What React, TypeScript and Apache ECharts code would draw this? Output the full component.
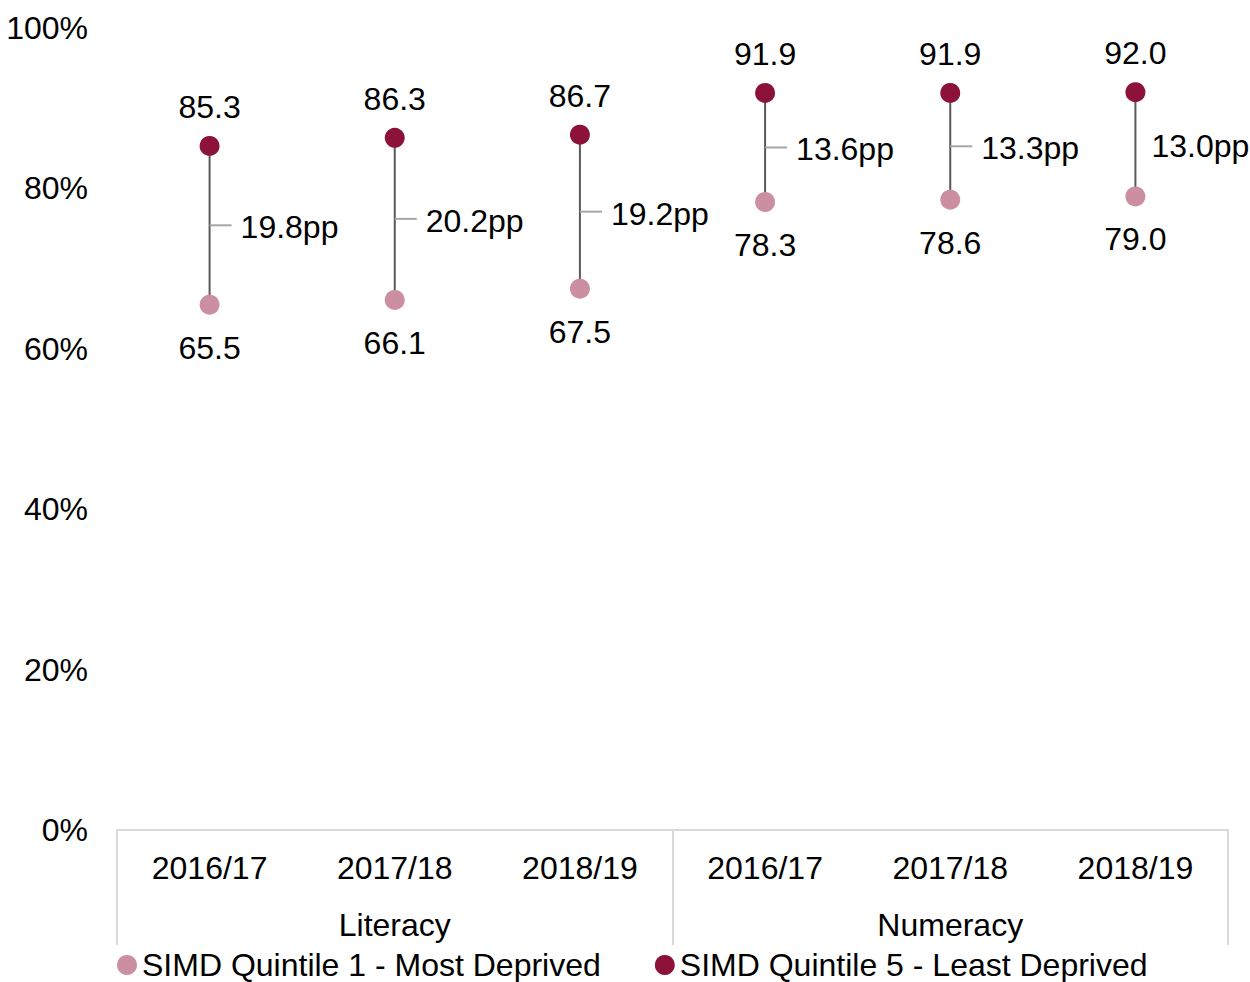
import React, { useEffect, useRef } from "react";
import * as echarts from "echarts";

const years = ["2016/17", "2017/18", "2018/19", "2016/17", "2017/18", "2018/19"];
const groups = ["Literacy", "Numeracy"];
const q1Values = [65.5, 66.1, 67.5, 78.3, 78.6, 79.0];
const q5Values = [85.3, 86.3, 86.7, 91.9, 91.9, 92.0];
const gapLabels = ["19.8pp", "20.2pp", "19.2pp", "13.6pp", "13.3pp", "13.0pp"];
const gapLeader = [true, true, true, true, true, false];
const yTicks = [0, 20, 40, 60, 80, 100];

const FONT = "'Liberation Sans', Arial, sans-serif";
const FS = 32;
const Q1_COLOR = "#cc8fa1";
const Q5_COLOR = "#8c1239";

export default function App() {
  const ref = useRef<HTMLDivElement>(null);
  useEffect(() => {
    const chart = echarts.init(ref.current!, null, { renderer: "svg" });
    const connectorData = years.map((_, i) => [i, q1Values[i], q5Values[i]]);
    chart.setOption({
      animation: false,
      textStyle: { fontFamily: FONT, color: "#000" },
      grid: { left: 117, right: 22, top: 28, bottom: 152, containLabel: false },
      legend: {
        data: ["SIMD Quintile 1 - Most Deprived", "SIMD Quintile 5 - Least Deprived"],
        left: 117,
        top: 949,
        padding: 0,
        itemWidth: 20,
        itemHeight: 20,
        itemGap: 54,
        icon: "circle",
        textStyle: { fontFamily: FONT, fontSize: FS, color: "#000", padding: [0, 0, 0, 0] },
      },
      xAxis: [
        {
          type: "category",
          data: years,
          position: "bottom",
          axisLine: { show: true, lineStyle: { color: "#d9d9d9", width: 2 } },
          axisTick: { show: false },
          axisLabel: { fontSize: FS, color: "#000", fontFamily: FONT, margin: 22 },
          splitLine: { show: false },
        },
        {
          type: "category",
          data: groups,
          position: "bottom",
          gridIndex: 0,
          axisLine: { show: false },
          axisTick: { show: true, length: 115, lineStyle: { color: "#d9d9d9", width: 2 } },
          axisLabel: { fontSize: FS, color: "#000", fontFamily: FONT, margin: 79 },
          splitLine: { show: false },
        },
      ],
      yAxis: {
        type: "value",
        min: 0,
        max: 100,
        interval: 20,
        axisLine: { show: false },
        axisTick: { show: false },
        splitLine: { show: false },
        axisLabel: {
          fontSize: FS,
          color: "#000",
          fontFamily: FONT,
          margin: 29,
          formatter: (v: number) => (yTicks.includes(v) ? v + "%" : ""),
        },
      },
      series: [
        {
          type: "custom",
          name: "gap",
          xAxisIndex: 0,
          z: 1,
          data: connectorData,
          renderItem: (params: any, api: any) => {
            const i = api.value(0);
            const lo = api.value(1);
            const hi = api.value(2);
            const p1 = api.coord([i, lo]);
            const p2 = api.coord([i, hi]);
            const midY = (p1[1] + p2[1]) / 2;
            const children: any[] = [
              {
                type: "line",
                shape: { x1: p1[0], y1: p1[1], x2: p2[0], y2: p2[1] },
                style: { stroke: "#595959", lineWidth: 2 },
              },
            ];
            const leader = gapLeader[i];
            if (leader) {
              children.push({
                type: "line",
                shape: { x1: p1[0], y1: midY, x2: p1[0] + 22, y2: midY },
                style: { stroke: "#a6a6a6", lineWidth: 2 },
              });
            }
            children.push({
              type: "text",
              x: p1[0] + (leader ? 31 : 16),
              y: midY + 2,
              style: {
                text: gapLabels[i],
                fontSize: FS,
                fontFamily: FONT,
                fill: "#000",
                verticalAlign: "middle",
                align: "left",
              },
            });
            return { type: "group", children };
          },
        },
        {
          type: "scatter",
          name: "SIMD Quintile 1 - Most Deprived",
          data: q1Values,
          symbol: "circle",
          symbolSize: 20,
          z: 3,
          itemStyle: { color: Q1_COLOR, opacity: 1 },
          label: {
            show: true,
            position: "bottom",
            distance: 17,
            fontSize: FS,
            fontFamily: FONT,
            color: "#000",
            formatter: (p: any) => p.value.toFixed(1),
          },
        },
        {
          type: "scatter",
          name: "SIMD Quintile 5 - Least Deprived",
          data: q5Values,
          symbol: "circle",
          symbolSize: 20,
          z: 3,
          itemStyle: { color: Q5_COLOR, opacity: 1 },
          label: {
            show: true,
            position: "top",
            distance: 13,
            fontSize: FS,
            fontFamily: FONT,
            color: "#000",
            formatter: (p: any) => p.value.toFixed(1),
          },
        },
      ],
    });
    return () => chart.dispose();
  }, []);
  return (
    <div
      ref={ref}
      style={{ position: "absolute", left: 0, top: 0, width: 1250, height: 982, background: "#fff" }}
    />
  );
}
